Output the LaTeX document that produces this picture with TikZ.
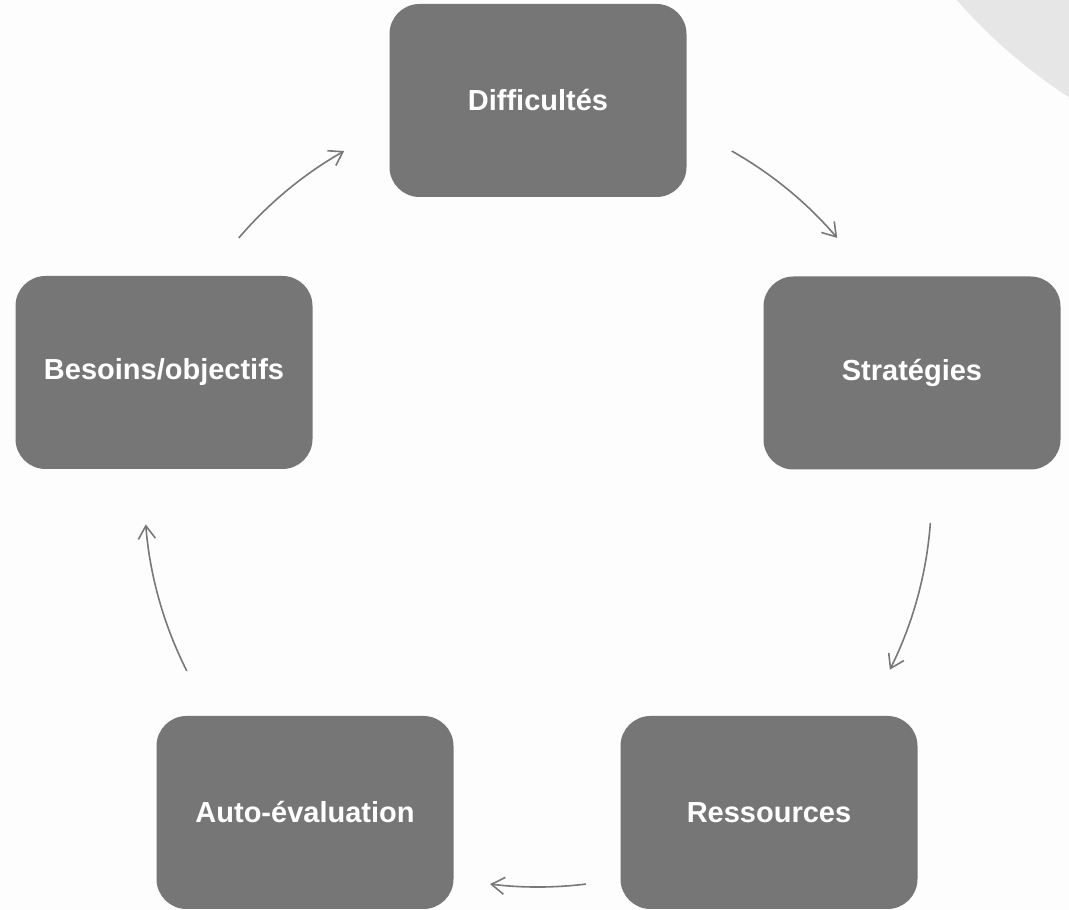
\documentclass[tikz,border=0pt]{standalone}
\usepackage{fontspec}
\setmainfont{Liberation Sans}
\usetikzlibrary{arrows.meta,calc}
\definecolor{boxgray}{HTML}{767676}
\definecolor{arrowgray}{HTML}{787878}
\definecolor{circgray}{HTML}{E6E6E6}
\definecolor{bggray}{HTML}{FDFDFD}
\begin{document}
\begin{tikzpicture}[x=1pt,y=1pt,
  stepbox/.style={fill=boxgray, rounded corners=30pt, minimum width=297pt,
    minimum height=193pt, inner sep=0pt, text=white,
    font=\fontsize{29}{34}\selectfont\bfseries},
  cyc/.style={draw=arrowgray, line width=1.6pt,
    -{Straight Barb[length=13pt,width=17pt]}}]
\fill[bggray] (0,0) rectangle (1069,910);
\useasboundingbox (0,0) rectangle (1069,910);
\begin{scope}
  \clip (0,0) rectangle (1069,910);
  \fill[circgray] (1365,1268) circle[radius=543pt];
\end{scope}
\node[stepbox] (dif) at (538,809.5) {Difficultés};
\node[stepbox] (str) at (912,537) {Stratégies};
\node[stepbox] (res) at (769,97.5) {Ressources};
\node[stepbox] (auto) at (305,97.5) {Auto-évaluation};
\node[stepbox] (bes) at (164,537.5) {Besoins/objectifs};
\coordinate (ctr) at (538,416.5);
\coordinate (a1) at ($(ctr)+(139.5:393.5)$);
\coordinate (a2) at ($(ctr)+(60.5:393.5)$);
\coordinate (a3) at ($(ctr)+(-4.3:393.5)$);
\coordinate (a4) at ($(ctr)+(-83:393.5)$);
\coordinate (a5) at ($(ctr)+(-153.2:393.5)$);
\draw[cyc] (a1) arc[start angle=139.5, end angle=119.5, radius=393.5pt];
\draw[cyc] (a2) arc[start angle=60.5, end angle=40.5, radius=393.5pt];
\draw[cyc] (a3) arc[start angle=-4.3, end angle=-26.6, radius=393.5pt];
\draw[cyc] (a4) arc[start angle=-83, end angle=-97, radius=393.5pt];
\draw[cyc] (a5) arc[start angle=-153.2, end angle=-175.5, radius=393.5pt];
\end{tikzpicture}
\end{document}
